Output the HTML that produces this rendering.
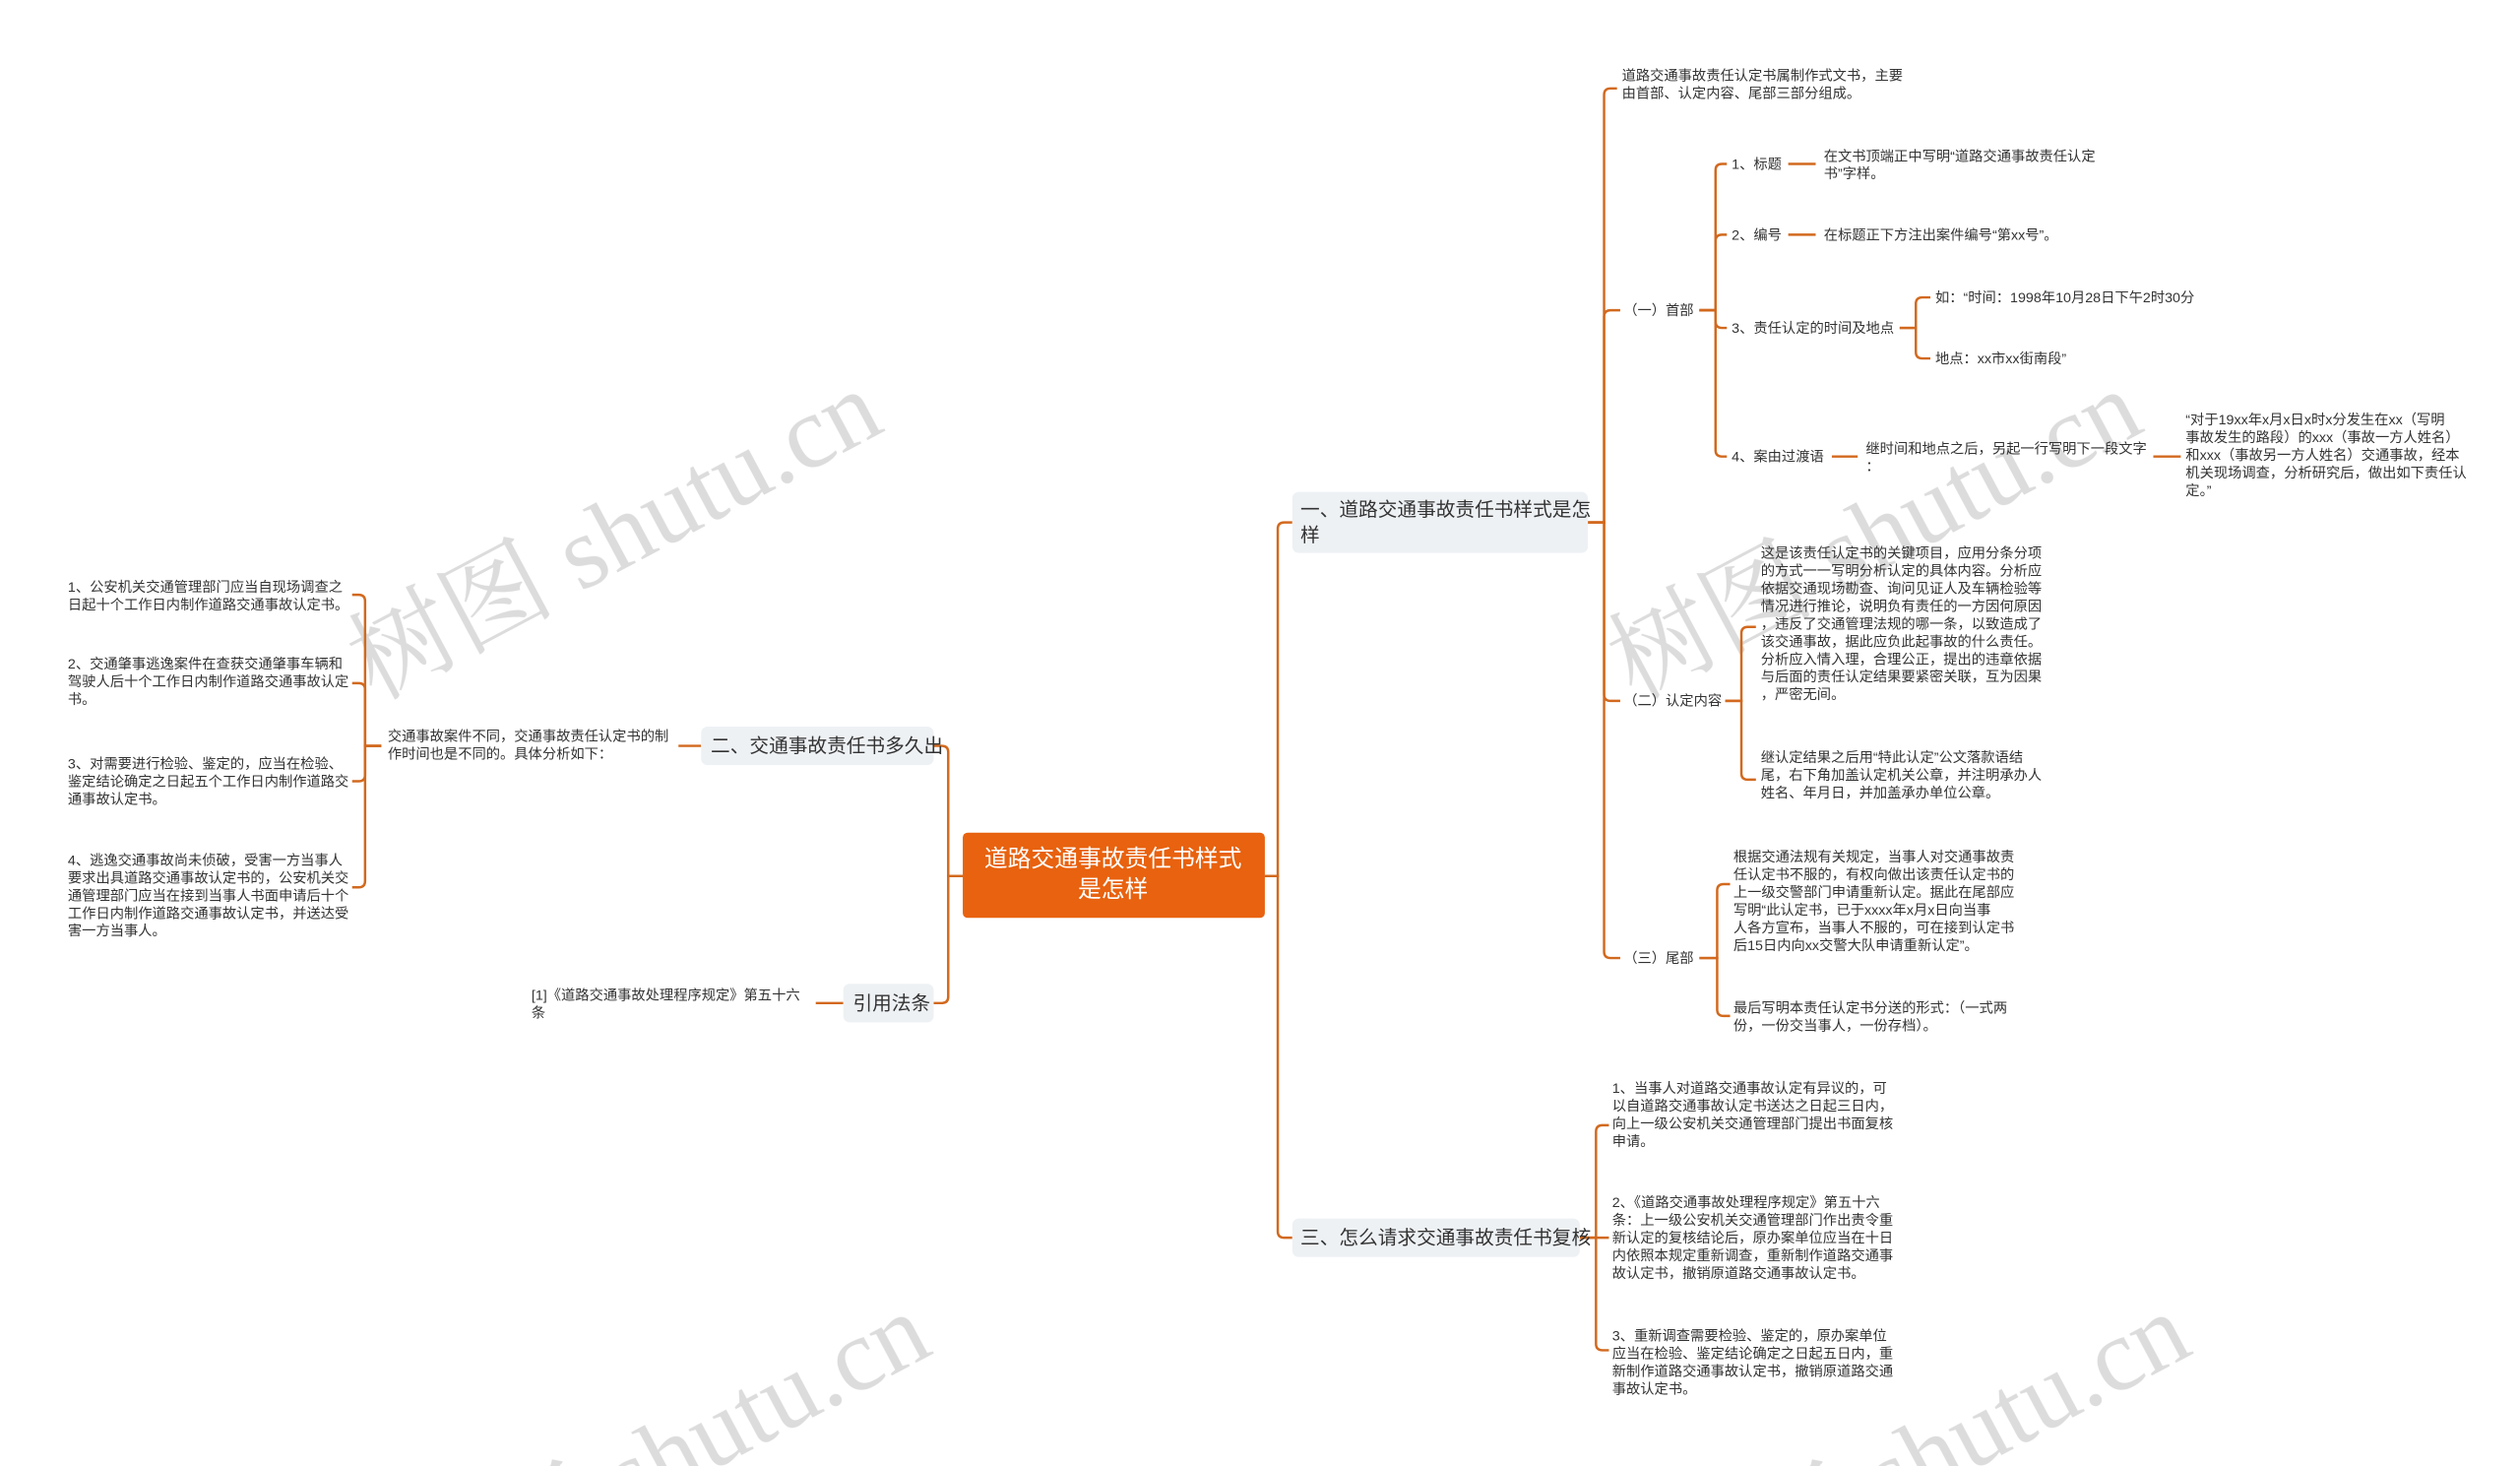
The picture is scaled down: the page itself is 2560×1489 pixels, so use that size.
<!DOCTYPE html>
<html><head><meta charset="utf-8"><style>
html,body{margin:0;padding:0;background:#fff;overflow:hidden;width:2560px;height:1489px}
svg{display:block}
text{font-family:"Liberation Sans","Noto Sans CJK SC",sans-serif;fill:#333;}
.l{font-size:8.7px}
.b{font-size:12px;fill:#333}
.wm{font-size:64px;fill:#d6d6d6;font-family:"Liberation Serif","Noto Serif CJK SC",serif;}
path{fill:none;stroke:#d2691e;stroke-width:1.5}
</style></head><body>
<svg width="2560" height="1489" viewBox="0 0 1560 912" preserveAspectRatio="none" xmlns="http://www.w3.org/2000/svg">
<g opacity="0.85">
<text class="wm" transform="translate(232,436) rotate(-28)">树图 shutu.cn</text>
<text class="wm" transform="translate(1012,436) rotate(-28)">树图 shutu.cn</text>
<text class="wm" transform="translate(262,1010) rotate(-28)">树图 shutu.cn</text>
<text class="wm" transform="translate(1042,1010) rotate(-28)">树图 shutu.cn</text>
</g>
<!-- connectors -->
<path d="M783 545H791V329Q791 325 795 325H800"/>
<path d="M783 545H791V766Q791 770 795 770H800"/>
<path d="M596 545H587V468Q587 464 583 464H578"/>
<path d="M596 545H587V620Q587 624 583 624H578"/>
<path d="M983 325H993V59Q993 55 997 55H1001"/>
<path d="M983 325H993V197Q993 193 997 193H1003"/>
<path d="M983 325H993V432Q993 436 997 436H1003"/>
<path d="M983 325H993V592Q993 596 997 596H1003"/>
<path d="M1052 193H1062V106Q1062 102 1066 102H1069"/>
<path d="M1052 193H1062V150Q1062 146 1066 146H1069"/>
<path d="M1052 193H1062V200Q1062 204 1066 204H1069"/>
<path d="M1052 193H1062V280Q1062 284 1066 284H1069"/>
<path d="M1107 102H1124"/>
<path d="M1107 146H1124"/>
<path d="M1176 204H1186V189Q1186 185 1190 185H1195"/>
<path d="M1176 204H1186V219Q1186 223 1190 223H1195"/>
<path d="M1134 284H1150"/>
<path d="M1333 284H1350"/>
<path d="M1068 436H1078V394Q1078 390 1082 390H1087"/>
<path d="M1068 436H1078V481Q1078 485 1082 485H1087"/>
<path d="M1052 596H1063V554Q1063 550 1067 550H1071"/>
<path d="M1052 596H1063V628Q1063 632 1067 632H1071"/>
<path d="M978 770H988V704Q988 700 992 700H996"/>
<path d="M978 770H996"/>
<path d="M978 770H988V836Q988 840 992 840H996"/>
<path d="M434 464H420"/>
<path d="M236 464H226V374Q226 370 222 370H218"/>
<path d="M236 464H226V429Q226 425 222 425H218"/>
<path d="M236 464H226V482Q226 486 222 486H218"/>
<path d="M236 464H226V548Q226 552 222 552H218"/>
<path d="M522 624H505"/>
<!-- center -->
<rect x="596" y="518" width="187" height="53" rx="3" fill="#e8620f"/>
<text x="689" y="539" text-anchor="middle" style="font-size:14.5px;fill:#fff">道路交通事故责任书样式</text>
<text x="689" y="558" text-anchor="middle" style="font-size:14.5px;fill:#fff">是怎样</text>
<!-- main branches -->
<rect x="800" y="306" width="183" height="38" rx="4" fill="#eef1f4"/>
<text class="b" x="805" y="321">一、道路交通事故责任书样式是怎</text>
<text class="b" x="805" y="337">样</text>
<rect x="800" y="758" width="178" height="24" rx="4" fill="#eef1f4"/>
<text class="b" x="805" y="774">三、怎么请求交通事故责任书复核</text>
<rect x="434" y="452" width="144" height="24" rx="4" fill="#eef1f4"/>
<text class="b" x="440" y="468">二、交通事故责任书多久出</text>
<rect x="522" y="612" width="56" height="24" rx="4" fill="#eef1f4"/>
<text class="b" x="528" y="628">引用法条</text>
<!-- branch1 -->
<text class="l" x="1004" y="50">道路交通事故责任认定书属制作式文书，主要</text>
<text class="l" x="1004" y="61">由首部、认定内容、尾部三部分组成。</text>
<text class="l" x="1005" y="196">（一）首部</text>
<text class="l" x="1072" y="105">1、标题</text>
<text class="l" x="1129" y="100">在文书顶端正中写明“道路交通事故责任认定</text>
<text class="l" x="1129" y="111">书”字样。</text>
<text class="l" x="1072" y="149">2、编号</text>
<text class="l" x="1129" y="149">在标题正下方注出案件编号“第xx号”。</text>
<text class="l" x="1072" y="207">3、责任认定的时间及地点</text>
<text class="l" x="1198" y="188">如：“时间：1998年10月28日下午2时30分</text>
<text class="l" x="1198" y="226">地点：xx市xx街南段”</text>
<text class="l" x="1072" y="287">4、案由过渡语</text>
<text class="l" x="1155" y="282">继时间和地点之后，另起一行写明下一段文字</text>
<text class="l" x="1155" y="293">：</text>
<text class="l" x="1353" y="264">“对于19xx年x月x日x时x分发生在xx（写明</text>
<text class="l" x="1353" y="275">事故发生的路段）的xxx（事故一方人姓名）</text>
<text class="l" x="1353" y="286">和xxx（事故另一方人姓名）交通事故，经本</text>
<text class="l" x="1353" y="297">机关现场调查，分析研究后，做出如下责任认</text>
<text class="l" x="1353" y="308">定。”</text>
<text class="l" x="1005" y="439">（二）认定内容</text>
<text class="l" x="1090" y="347">这是该责任认定书的关键项目，应用分条分项</text>
<text class="l" x="1090" y="358">的方式一一写明分析认定的具体内容。分析应</text>
<text class="l" x="1090" y="369">依据交通现场勘查、询问见证人及车辆检验等</text>
<text class="l" x="1090" y="380">情况进行推论，说明负有责任的一方因何原因</text>
<text class="l" x="1090" y="391">，违反了交通管理法规的哪一条，以致造成了</text>
<text class="l" x="1090" y="402">该交通事故，据此应负此起事故的什么责任。</text>
<text class="l" x="1090" y="413">分析应入情入理，合理公正，提出的违章依据</text>
<text class="l" x="1090" y="424">与后面的责任认定结果要紧密关联，互为因果</text>
<text class="l" x="1090" y="435">，严密无间。</text>
<text class="l" x="1090" y="474">继认定结果之后用“特此认定”公文落款语结</text>
<text class="l" x="1090" y="485">尾，右下角加盖认定机关公章，并注明承办人</text>
<text class="l" x="1090" y="496">姓名、年月日，并加盖承办单位公章。</text>
<text class="l" x="1005" y="599">（三）尾部</text>
<text class="l" x="1073" y="536">根据交通法规有关规定，当事人对交通事故责</text>
<text class="l" x="1073" y="547">任认定书不服的，有权向做出该责任认定书的</text>
<text class="l" x="1073" y="558">上一级交警部门申请重新认定。据此在尾部应</text>
<text class="l" x="1073" y="569">写明“此认定书，已于xxxx年x月x日向当事</text>
<text class="l" x="1073" y="580">人各方宣布，当事人不服的，可在接到认定书</text>
<text class="l" x="1073" y="591">后15日内向xx交警大队申请重新认定”。</text>
<text class="l" x="1073" y="630">最后写明本责任认定书分送的形式：（一式两</text>
<text class="l" x="1073" y="641">份，一份交当事人，一份存档）。</text>
<!-- branch3 -->
<text class="l" x="998" y="680">1、当事人对道路交通事故认定有异议的，可</text>
<text class="l" x="998" y="691">以自道路交通事故认定书送达之日起三日内，</text>
<text class="l" x="998" y="702">向上一级公安机关交通管理部门提出书面复核</text>
<text class="l" x="998" y="713">申请。</text>
<text class="l" x="998" y="751">2、《道路交通事故处理程序规定》第五十六</text>
<text class="l" x="998" y="762">条：上一级公安机关交通管理部门作出责令重</text>
<text class="l" x="998" y="773">新认定的复核结论后，原办案单位应当在十日</text>
<text class="l" x="998" y="784">内依照本规定重新调查，重新制作道路交通事</text>
<text class="l" x="998" y="795">故认定书，撤销原道路交通事故认定书。</text>
<text class="l" x="998" y="834">3、重新调查需要检验、鉴定的，原办案单位</text>
<text class="l" x="998" y="845">应当在检验、鉴定结论确定之日起五日内，重</text>
<text class="l" x="998" y="856">新制作道路交通事故认定书，撤销原道路交通</text>
<text class="l" x="998" y="867">事故认定书。</text>
<!-- branch2 -->
<text class="l" x="240" y="461">交通事故案件不同，交通事故责任认定书的制</text>
<text class="l" x="240" y="472">作时间也是不同的。具体分析如下：</text>
<text class="l" x="42" y="368">1、公安机关交通管理部门应当自现场调查之</text>
<text class="l" x="42" y="379">日起十个工作日内制作道路交通事故认定书。</text>
<text class="l" x="42" y="416">2、交通肇事逃逸案件在查获交通肇事车辆和</text>
<text class="l" x="42" y="427">驾驶人后十个工作日内制作道路交通事故认定</text>
<text class="l" x="42" y="438">书。</text>
<text class="l" x="42" y="478">3、对需要进行检验、鉴定的，应当在检验、</text>
<text class="l" x="42" y="489">鉴定结论确定之日起五个工作日内制作道路交</text>
<text class="l" x="42" y="500">通事故认定书。</text>
<text class="l" x="42" y="538">4、逃逸交通事故尚未侦破，受害一方当事人</text>
<text class="l" x="42" y="549">要求出具道路交通事故认定书的，公安机关交</text>
<text class="l" x="42" y="560">通管理部门应当在接到当事人书面申请后十个</text>
<text class="l" x="42" y="571">工作日内制作道路交通事故认定书，并送达受</text>
<text class="l" x="42" y="582">害一方当事人。</text>
<text class="l" x="329" y="622">[1]《道路交通事故处理程序规定》第五十六</text>
<text class="l" x="329" y="633">条</text>
</svg>
</body></html>
